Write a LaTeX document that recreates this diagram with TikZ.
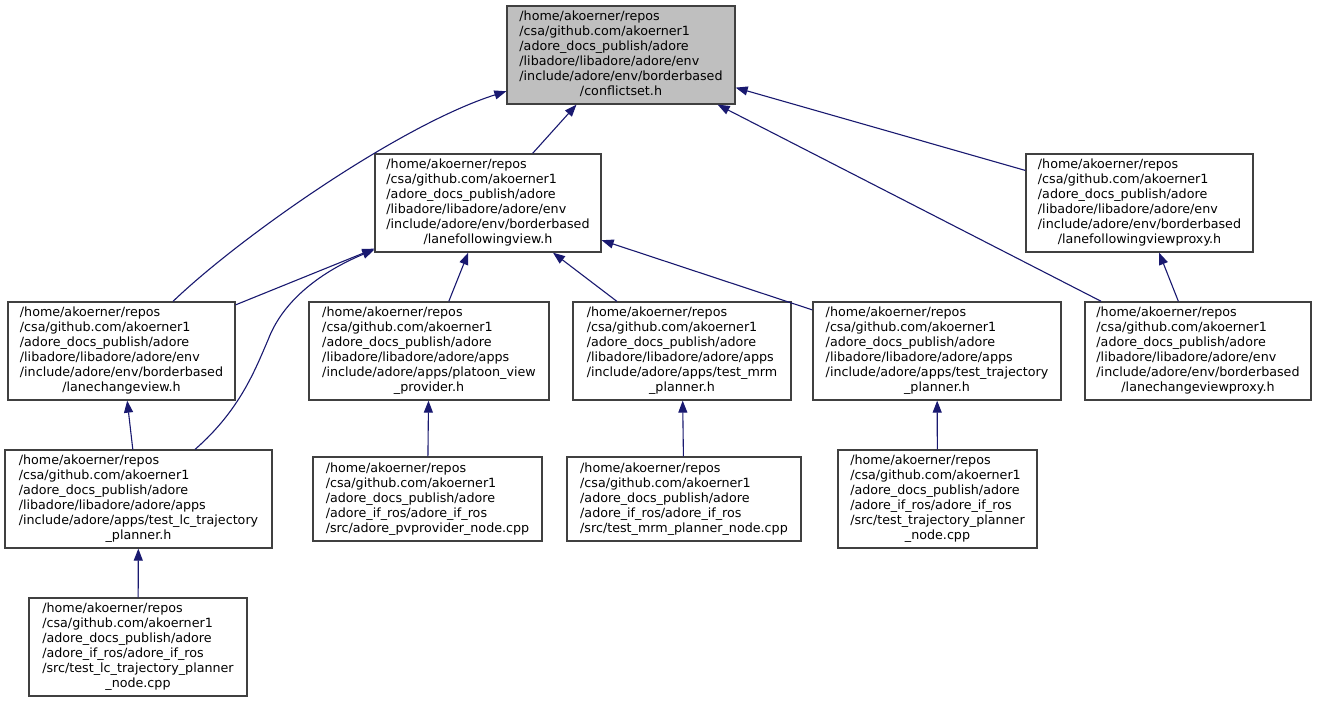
\documentclass[tikz,border=0pt]{standalone}
\usepackage{fontspec}
\setmainfont{DejaVu Sans}
\usetikzlibrary{arrows.meta}
\definecolor{edgec}{HTML}{191970}
\definecolor{boxc}{HTML}{404040}
\definecolor{hlc}{HTML}{BFBFBF}
\newcommand\pfxhead{/home/akoerner/repos\\/csa/github.com/akoerner1\\/adore\_docs\_publish/adore\\}
\newcommand\pfxenv{\pfxhead/libadore/libadore/adore/env\\/include/adore/env/borderbased\\}
\newcommand\pfxapps{\pfxhead/libadore/libadore/adore/apps\\}
\newcommand\pfxros{\pfxhead/adore\_if\_ros/adore\_if\_ros\\}
\newcommand\flab[2]{\begin{tabular}{@{}l@{}}#1\multicolumn{1}{@{}c@{}}{#2}\end{tabular}}
\tikzset{
  box/.style={draw=boxc, line width=1.3pt, fill=white, inner sep=0pt,
    font=\fontsize{12.7}{15}\selectfont, minimum height=98pt},
  e/.style={draw=edgec, line width=1.1pt, -{Triangle[length=12pt,width=9pt]}}
}
\begin{document}
\begin{tikzpicture}[x=1pt,y=-1pt]
\useasboundingbox[fill=white] (0,0) rectangle (1317,703);
\node[box, fill=hlc, minimum width=228pt] (cs) at (621,55) {\flab{\pfxenv}{/conflictset.h}};
\node[box, minimum width=226pt] (lfv) at (488,203) {\flab{\pfxenv}{/lanefollowingview.h}};
\node[box, minimum width=227pt] (lfvp) at (1139.5,203) {\flab{\pfxenv}{/lanefollowingviewproxy.h}};
\node[box, minimum width=227pt] (lcv) at (121.5,351) {\flab{\pfxenv}{/lanechangeview.h}};
\node[box, minimum width=240pt] (pvp) at (429,351) {\flab{\pfxapps/include/adore/apps/platoon\_view\\}{\_provider.h}};
\node[box, minimum width=218pt] (mrm) at (682,351) {\flab{\pfxapps/include/adore/apps/test\_mrm\\}{\_planner.h}};
\node[box, minimum width=248pt] (ttp) at (937,351) {\flab{\pfxapps/include/adore/apps/test\_trajectory\\}{\_planner.h}};
\node[box, minimum width=226pt] (lcvp) at (1198,351) {\flab{\pfxenv}{/lanechangeviewproxy.h}};
\node[box, minimum width=267pt] (tlc) at (138.5,499) {\flab{\pfxapps/include/adore/apps/test\_lc\_trajectory\\}{\_planner.h}};
\node[box, minimum width=229pt, minimum height=84pt] (pvn) at (427.5,499) {\flab{\pfxros}{/src/adore\_pvprovider\_node.cpp}};
\node[box, minimum width=234pt, minimum height=84pt] (mrmn) at (684,499) {\flab{\pfxros}{/src/test\_mrm\_planner\_node.cpp}};
\node[box, minimum width=199pt] (ttpn) at (937.5,499) {\flab{\pfxros/src/test\_trajectory\_planner\\}{\_node.cpp}};
\node[box, minimum width=218pt] (tlcn) at (138,647) {\flab{\pfxros/src/test\_lc\_trajectory\_planner\\}{\_node.cpp}};
% edges
\draw[e] (lfv) -- (cs);
\draw[e] (lcv) .. controls (240,237) and (400,125) .. (cs);
\draw[e] (lfvp) -- (cs);
\draw[e] (lcvp) -- (cs);
\draw[e] (lcvp) -- (lfvp);
\draw[e] (lcv) -- (lfv);
\draw[e] (tlc) .. controls (240,410) and (255,370) .. (268,340) .. controls (285,295) and (330,268) .. (lfv);
\draw[e] (pvp) -- (lfv);
\draw[e] (mrm) -- (lfv);
\draw[e] (ttp) -- (lfv);
\draw[e] (tlc) -- (lcv);
\draw[e] (tlcn) -- (tlc);
\draw[e] (pvn) -- (pvp);
\draw[e] (mrmn) -- (mrm);
\draw[e] (ttpn) -- (ttp);
\end{tikzpicture}
\end{document}
